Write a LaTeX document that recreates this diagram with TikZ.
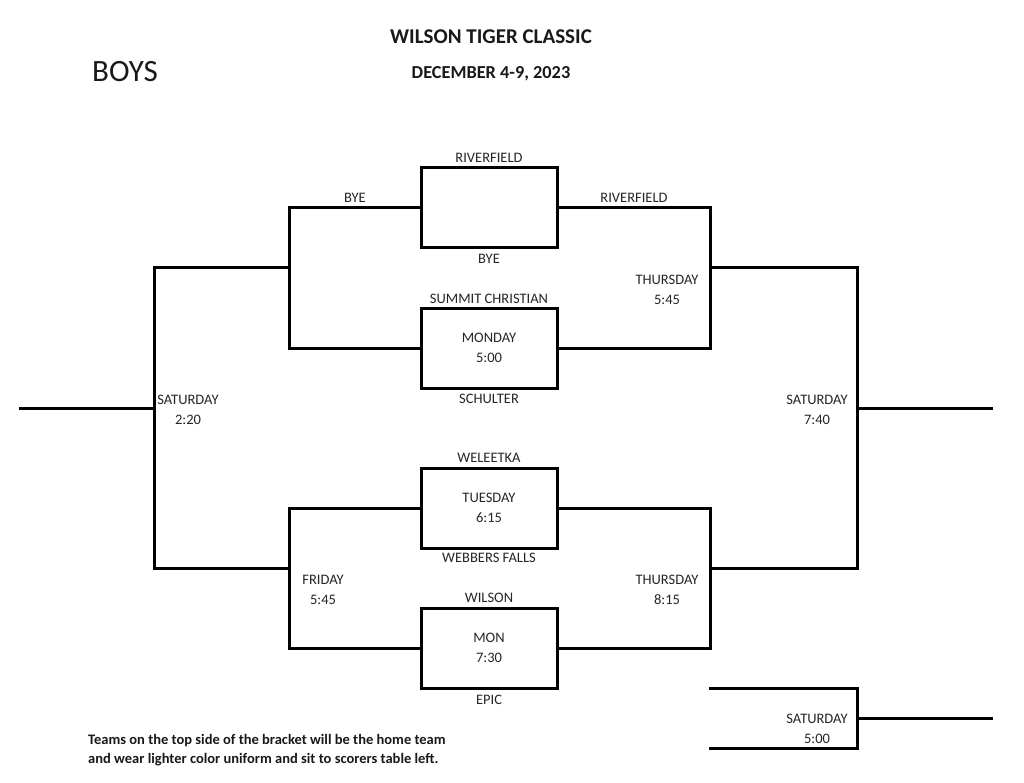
\documentclass[tikz,border=0pt]{standalone}
\usepackage{fontspec}
\setmainfont{Carlito}
\begin{document}
\begin{tikzpicture}[x=1pt,y=-1pt,
  bline/.style={line width=3pt, line join=miter, line cap=rect, black},
  gamebox/.style={draw, line width=3pt, rectangle, minimum width=136pt, minimum height=80pt, inner sep=0pt, align=center, font=\fontsize{14.5}{20.5}\selectfont, text=black!85},
  lbl/.style={font=\fontsize{14.5}{20.5}\selectfont, text=black!85, inner sep=0pt, align=center},
]
\useasboundingbox[fill=white] (0,0) rectangle (1024,783);

% titles
\node[font=\bfseries\fontsize{21}{24}\selectfont, text=black!90] (title) at (491,37) {WILSON TIGER CLASSIC};
\node[font=\bfseries\fontsize{18.3}{22}\selectfont, text=black!90] (date) at (491,74) {DECEMBER 4-9, 2023};
\node[font=\fontsize{31}{34}\selectfont, text=black!90] (boys) at (125,72) {BOYS};

% game boxes
\node[gamebox] (g1) at (489,208) {};
\node[gamebox] (g2) at (489,348) {MONDAY\\5:00};
\node[gamebox] (g3) at (489,508) {TUESDAY\\6:15};
\node[gamebox] (g4) at (489,648) {MON\\7:30};

% bracket coordinates
\coordinate (q1) at (289,268);
\coordinate (q2) at (289,568);
\coordinate (r1) at (710,268);
\coordinate (r2) at (710,568);
\coordinate (sl) at (154,408);
\coordinate (sr) at (857,408);
\coordinate (endl) at (20,408);
\coordinate (endr) at (991,408);
\coordinate (c1) at (710,688);
\coordinate (c2) at (710,748);
\coordinate (cc) at (857,718);
\coordinate (cend) at (991,718);

% left brackets
\draw[bline] (g1.west) -| (q1) |- (g2.west);
\draw[bline] (g3.west) -| (q2) |- (g4.west);
\draw[bline] (q1) -| (sl) |- (q2);
\draw[bline] (endl) -- (sl);
% right brackets
\draw[bline] (g1.east) -| (r1) |- (g2.east);
\draw[bline] (g3.east) -| (r2) |- (g4.east);
\draw[bline] (r1) -| (sr) |- (r2);
\draw[bline] (sr) -- (endr);
% consolation
\draw[bline] (c1) -| (cc) |- (c2);
\draw[bline] (cc) -- (cend);

% team labels
\node[lbl] (t1) at (489,158) {RIVERFIELD};
\node[lbl] (t2) at (489,259) {BYE};
\node[lbl] (t3) at (355,198) {BYE};
\node[lbl] (t4) at (634,198) {RIVERFIELD};
\node[lbl] (t5) at (489,299) {SUMMIT CHRISTIAN};
\node[lbl] (t6) at (489,399) {SCHULTER};
\node[lbl] (t7) at (489,458) {WELEETKA};
\node[lbl] (t8) at (489,558) {WEBBERS FALLS};
\node[lbl] (t9) at (489,598) {WILSON};
\node[lbl] (t10) at (489,700) {EPIC};

% game times
\node[lbl] (d1) at (667,290) {THURSDAY\\5:45};
\node[lbl] (d2) at (667,590) {THURSDAY\\8:15};
\node[lbl] (d3) at (323,590) {FRIDAY\\5:45};
\node[lbl] (d4) at (188,410) {SATURDAY\\2:20};
\node[lbl] (d5) at (817,410) {SATURDAY\\7:40};
\node[lbl] (d6) at (817,729) {SATURDAY\\5:00};

% footer
\node[font=\bfseries\fontsize{14.5}{19}\selectfont, text=black!90, anchor=west, align=left, inner sep=0pt] (foot) at (88,750)
  {Teams on the top side of the bracket will be the home team\\and wear lighter color uniform and sit to scorers table left.};
\end{tikzpicture}
\end{document}
